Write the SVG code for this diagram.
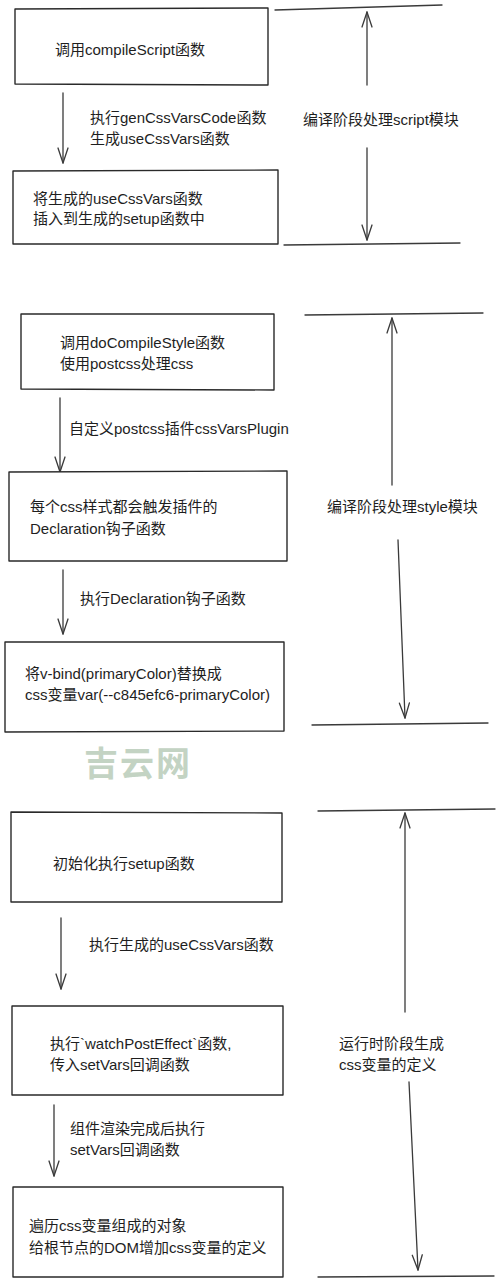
<svg xmlns="http://www.w3.org/2000/svg" width="500" height="1283" viewBox="0 0 500 1283">
<style>
.box{fill:#fff;stroke:#2a2a2a;stroke-width:1.4;stroke-linejoin:round}
.ln{fill:none;stroke:#3a3a3a;stroke-width:1.3;stroke-linecap:round}
.t{font-family:"Liberation Sans","Noto Sans CJK SC",sans-serif;font-size:15px;fill:#1e1e1e}
.wm{font-family:"Noto Sans CJK SC",sans-serif;font-size:34px;font-weight:bold;fill:#c3d3c3;letter-spacing:2px}
</style>
<defs>
<marker id="v" markerUnits="userSpaceOnUse" markerWidth="24" markerHeight="16" viewBox="-16 -8 18 16" refX="0" refY="0" orient="auto" overflow="visible">
<path d="M-15,-5 L0,0 L-15,5" fill="none" stroke="#3a3a3a" stroke-width="1.3" stroke-linecap="round" stroke-linejoin="round"/>
</marker>
</defs>
<rect width="500" height="1283" fill="#fff"/>

<g id="connectors">
<path class="ln" d="M63,93 L63,163" marker-end="url(#v)"/>
<path class="ln" d="M60,398 L60,472" marker-end="url(#v)"/>
<path class="ln" d="M63,570 L63,634" marker-end="url(#v)"/>
<path class="ln" d="M61,918 L61,989" marker-end="url(#v)"/>
<path class="ln" d="M54,1105 L54,1176" marker-end="url(#v)"/>
</g>

<g id="phase-script">
<path class="ln" d="M275,10 L442,5"/>
<path class="ln" d="M367,85 L367,12" marker-end="url(#v)"/>
<path class="ln" d="M367,148 L367,240" marker-end="url(#v)"/>
<path class="ln" d="M284,245 L460,243"/>
<text class="t" x="303" y="125">编译阶段处理script模块</text>
</g>

<g id="phase-style">
<path class="ln" d="M305,315 L483,313"/>
<path class="ln" d="M392,485 L392,318" marker-end="url(#v)"/>
<path class="ln" d="M398,540 L405,718" marker-end="url(#v)"/>
<path class="ln" d="M312,725 L488,723"/>
<text class="t" x="327" y="512">编译阶段处理style模块</text>
</g>

<g id="phase-runtime">
<path class="ln" d="M318,811 L495,809"/>
<path class="ln" d="M405,1012 L405,813" marker-end="url(#v)"/>
<path class="ln" d="M409,1082 L418,1270" marker-end="url(#v)"/>
<path class="ln" d="M318,1277 L494,1276"/>
<text class="t" x="339" y="1049">运行时阶段生成</text>
<text class="t" x="339" y="1070">css变量的定义</text>
</g>

<g id="node-compileScript">
<path class="box" d="M15,9 L268,8 L268,85 L15,84 Z"/>
<text class="t" x="55" y="55">调用compileScript函数</text>
</g>

<g id="label-1">
<text class="t" x="90" y="123">执行genCssVarsCode函数</text>
<text class="t" x="90" y="144">生成useCssVars函数</text>
</g>

<g id="node-insert">
<path class="box" d="M13,171 L278,170 L278,244 L13,244 Z"/>
<text class="t" x="33" y="204">将生成的useCssVars函数</text>
<text class="t" x="33" y="224">插入到生成的setup函数中</text>
</g>

<g id="node-doCompileStyle">
<path class="box" d="M21,314 L274,314 L274,390 L21,389 Z"/>
<text class="t" x="60" y="348">调用doCompileStyle函数</text>
<text class="t" x="60" y="369">使用postcss处理css</text>
</g>

<g id="label-2">
<text class="t" x="69" y="434">自定义postcss插件cssVarsPlugin</text>
</g>

<g id="node-declaration">
<path class="box" d="M9,472 L287,471 L287,561 L9,561 Z"/>
<text class="t" x="30" y="512">每个css样式都会触发插件的</text>
<text class="t" x="30" y="534">Declaration钩子函数</text>
</g>

<g id="label-3">
<text class="t" x="80" y="604">执行Declaration钩子函数</text>
</g>

<g id="node-replace">
<path class="box" d="M5,642 L284,642 L284,731 L5,732 Z"/>
<text class="t" x="25" y="679">将v-bind(primaryColor)替换成</text>
<text class="t" x="25" y="700">css变量var(--c845efc6-primaryColor)</text>
</g>

<text class="wm" x="84" y="776">吉云网</text>

<g id="node-setup">
<path class="box" d="M11,812 L282,813 L282,902 L11,902 Z"/>
<text class="t" x="53" y="869">初始化执行setup函数</text>
</g>

<g id="label-4">
<text class="t" x="89" y="950">执行生成的useCssVars函数</text>
</g>

<g id="node-watchPostEffect">
<path class="box" d="M12,1006 L283,1006 L283,1095 L12,1095 Z"/>
<text class="t" x="50" y="1049">执行`watchPostEffect`函数,</text>
<text class="t" x="50" y="1070">传入setVars回调函数</text>
</g>

<g id="label-5">
<text class="t" x="70" y="1134">组件渲染完成后执行</text>
<text class="t" x="70" y="1155">setVars回调函数</text>
</g>

<g id="node-dom">
<path class="box" d="M13,1187 L283,1187 L283,1277 L13,1277 Z"/>
<text class="t" x="29" y="1231">遍历css变量组成的对象</text>
<text class="t" x="29" y="1253">给根节点的DOM增加css变量的定义</text>
</g>
</svg>
